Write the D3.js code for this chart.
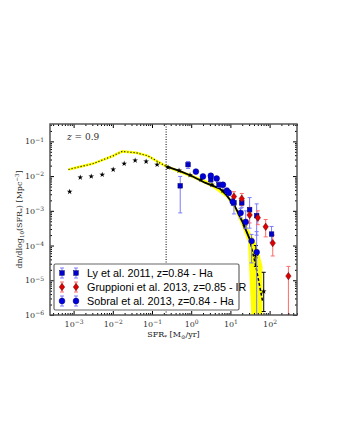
<!DOCTYPE html>
<html>
<head>
<meta charset="utf-8">
<script src="https://cdn.jsdelivr.net/npm/d3@7"></script>
<style>
  body { margin: 0; background: #fff; }
  svg text { font-family: "DejaVu Serif", "Liberation Serif", serif; }
</style>
</head>
<body>
<div id="chart"></div>
<script>
// values are log10(SFR) and log10(phi)
var starX = [-3.1, -2.83, -2.55, -2.27, -1.99, -1.71, -1.43, -1.15, -0.87, -0.59, -0.31, -0.03, 0.25, 0.53, 0.81, 1.09, 1.37, 1.65, 1.85];
var starY = [-2.45, -2.04, -2.01, -1.96, -1.81, -1.64, -1.55, -1.58, -1.67, -1.75, -1.84, -1.97, -2.1, -2.25, -2.42, -2.8, -3.45, -4.3, -5.32];
var starErrLo = [null, null, null, null, null, null, null, null, null, null, null, null, null, null, null, null, null, -4.6, -5.9];
var starErrHi = [null, null, null, null, null, null, null, null, null, null, null, null, null, null, null, null, null, -4.0, -4.77];

var modelX = [-3.13, -2.5, -2.0, -1.76, -1.4, -1.12, -0.64, -0.3, 0.0, 0.35, 0.73, 0.9, 1.11, 1.3, 1.49, 1.65, 1.82];
var modelY = [-1.81, -1.64, -1.42, -1.29, -1.33, -1.41, -1.72, -1.85, -1.99, -2.19, -2.36, -2.55, -2.86, -3.3, -3.81, -4.6, -5.6];

var bandX = [-0.64, 0.0, 0.5, 0.9, 1.1, 1.3, 1.45, 1.54, 1.65, 1.75, 1.82];
var bandHi = [-1.68, -1.95, -2.18, -2.5, -2.8, -3.18, -3.5, -3.7, -3.92, -4.3, -4.6];
var bandLo = [-1.76, -2.04, -2.3, -2.62, -2.94, -3.45, -3.9, -6.5, -6.5, -6.5, -6.5];

var lyX = [-0.28, -0.08, 0.50, 0.71, 1.09, 1.29, 1.49, 1.67, 2.05];
var lyY = [-2.28, -1.67, -2.10, -2.25, -2.77, -2.77, -2.97, -3.14, -3.67];
var lyLo = [-3.06, -1.78, -2.18, -2.33, -3.09, -2.9, -3.5, -3.7, -3.9];
var lyHi = [-2.01, -1.58, -2.03, -2.17, -2.59, -2.65, -2.62, -2.8, -3.45];

var grX = [1.09, 1.29, 1.49, 1.70, 1.90, 2.08, 2.48];
var grY = [-2.59, -2.65, -3.12, -3.2, -3.46, -3.93, -4.88];
var grLo = [-2.75, -2.85, -3.35, -3.4, -3.75, -4.3, -6.0];
var grHi = [-2.45, -2.5, -2.9, -3.0, -3.25, -3.7, -4.6];

var soX = [0.12, 0.30, 0.50, 0.65, 0.81, 0.91, 0.96, 1.06, 1.26, 1.39, 1.54, 1.67];
var soY = [-1.87, -2.01, -1.99, -2.07, -2.25, -2.42, -2.48, -2.74, -3.06, -3.32, -3.87, -4.19];
var soLo = [-1.93, -2.07, -2.05, -2.13, -2.31, -2.5, -2.56, -2.84, -3.2, -3.5, -4.5, -6.5];
var soHi = [-1.82, -1.96, -1.94, -2.02, -2.2, -2.35, -2.41, -2.65, -2.93, -3.0, -3.68, -3.6];

var legendLabels = ["Ly et al. 2011, z=0.84 - Ha", "Gruppioni et al. 2013, z=0.85 - IR", "Sobral et al. 2013, z=0.84 - Ha"];
var xTickExp = [-3, -2, -1, 0, 1, 2];
var yTickExp = [-6, -5, -4, -3, -2, -1];
var completeness = -0.64;

const margin = {top: 124, right: 43, bottom: 125, left: 50},
    width = 340 - margin.left - margin.right,
    height = 440 - margin.top - margin.bottom;

const svg = d3.select("#chart").append("svg")
    .attr("width", 340).attr("height", 440)
  .append("g")
    .attr("transform", "translate(" + margin.left + "," + margin.top + ")");

const x = d3.scaleLog().domain([2.5e-4, 500]).range([0, width]);
const y = d3.scaleLog().domain([1e-6, Math.pow(10, -0.5)]).range([height, 0]);
const px = v => x(Math.pow(10, v));
const py = v => y(Math.pow(10, Math.max(v, -6.2)));

svg.append("defs").append("clipPath").attr("id", "clip")
  .append("rect").attr("width", width).attr("height", height);
const plot = svg.append("g").attr("clip-path", "url(#clip)");

// yellow band
const band = d3.area()
    .x((d, i) => px(bandX[i]))
    .y0((d, i) => py(bandLo[i]))
    .y1((d, i) => py(bandHi[i]));
plot.append("path").datum(bandX).attr("d", band).attr("fill", "#ffff00");

const modelPts = modelX.map((v, i) => [v, modelY[i]]);
const line = d3.line().x(d => px(d[0])).y(d => py(d[1]));
const leftPts = modelPts.filter(d => d[0] <= completeness);
const midPts = modelPts.filter(d => d[0] >= completeness && d[0] <= 1.49);
const endPts = modelPts.filter(d => d[0] >= 1.49);

plot.append("path").datum(leftPts).attr("d", line)
    .attr("fill", "none").attr("stroke", "#ffff00").attr("stroke-width", 2.6);
plot.append("path").datum(leftPts).attr("d", line)
    .attr("fill", "none").attr("stroke", "#000").attr("stroke-width", 1.1)
    .attr("stroke-dasharray", "1.1,2");
plot.append("path").datum(midPts).attr("d", line)
    .attr("fill", "none").attr("stroke", "#000").attr("stroke-width", 1.8);
plot.append("path").datum(endPts).attr("d", line)
    .attr("fill", "none").attr("stroke", "#000").attr("stroke-width", 1.5)
    .attr("stroke-dasharray", "3,2");

// completeness limit
svg.append("line")
    .attr("x1", px(completeness)).attr("x2", px(completeness))
    .attr("y1", 0).attr("y2", height)
    .attr("stroke", "#000").attr("stroke-width", 1).attr("stroke-dasharray", "1,1.5");

function errorBars(g, xs, lo, hi, color) {
    xs.forEach(function(v, i) {
        if (lo[i] == null) return;
        const cx = px(v);
        g.append("line").attr("x1", cx).attr("x2", cx)
            .attr("y1", py(lo[i])).attr("y2", py(hi[i]))
            .attr("stroke", color).attr("stroke-width", 1);
        [lo[i], hi[i]].forEach(function(e) {
            if (e < -6) return;
            g.append("line").attr("x1", cx - 2).attr("x2", cx + 2)
                .attr("y1", py(e)).attr("y2", py(e))
                .attr("stroke", color).attr("stroke-width", 1);
        });
    });
}

// stars
errorBars(plot, starX, starErrLo, starErrHi, "#000");
const star = d3.symbol().type(d3.symbolStar).size(10);
plot.selectAll(".star").data(starX).enter().append("path")
    .attr("d", star)
    .attr("transform", (d, i) => "translate(" + px(d) + "," + py(starY[i]) + ")")
    .attr("fill", "#000");

const blueErr = "#7a7aff", redErr = "#ff6a6a";
function square(g, cx, cy) {
    g.append("rect").attr("x", cx - 2.3).attr("y", cy - 2.3).attr("width", 4.6).attr("height", 4.6)
        .attr("fill", "#0000cc").attr("stroke", "#000066").attr("stroke-width", 0.5);
}
function circle(g, cx, cy) {
    g.append("circle").attr("cx", cx).attr("cy", cy).attr("r", 2.9)
        .attr("fill", "#0000dd").attr("stroke", "#000077").attr("stroke-width", 0.5);
}
function diamond(g, cx, cy) {
    g.append("path")
        .attr("d", "M" + cx + "," + (cy - 3.7) + "L" + (cx + 2.7) + "," + cy + "L" + cx + "," + (cy + 3.7) + "L" + (cx - 2.7) + "," + cy + "Z")
        .attr("fill", "#dd0000").attr("stroke", "#660000").attr("stroke-width", 0.5);
}

errorBars(plot, lyX, lyLo, lyHi, blueErr);
errorBars(plot, grX, grLo, grHi, redErr);
errorBars(plot, soX, soLo, soHi, blueErr);
lyX.forEach((v, i) => square(plot, px(v), py(lyY[i])));
grX.forEach((v, i) => diamond(plot, px(v), py(grY[i])));
soX.forEach((v, i) => circle(plot, px(v), py(soY[i])));

// axes with inward ticks
function minors(exps, lo, hi) {
    const out = [];
    for (let e = exps[0] - 1; e <= exps[exps.length - 1] + 1; e++)
        for (let m = 2; m <= 9; m++) {
            const v = m * Math.pow(10, e);
            if (v >= lo && v <= hi) out.push(v);
        }
    return out;
}
const xMaj = xTickExp.map(e => Math.pow(10, e));
const yMaj = yTickExp.map(e => Math.pow(10, e));
const xMin = minors(xTickExp, x.domain()[0], x.domain()[1]);
const yMin = minors(yTickExp, y.domain()[0], y.domain()[1]);

function sup(sel, exps) {
    sel.selectAll(".tick text").each(function(d, i) {
        const t = d3.select(this).text("");
        t.append("tspan").text("10");
        t.append("tspan").attr("dy", "-0.45em").attr("font-size", "6px")
            .text(exps[i] < 0 ? "\u2212" + Math.abs(exps[i]) : exps[i]);
    });
}

const axes = [
  {ax: d3.axisBottom(x), tr: "translate(0," + height + ")", maj: xMaj, min: xMin, labels: true, exps: xTickExp},
  {ax: d3.axisTop(x), tr: "translate(0,0)", maj: xMaj, min: xMin},
  {ax: d3.axisLeft(y), tr: "translate(0,0)", maj: yMaj, min: yMin, labels: true, exps: yTickExp},
  {ax: d3.axisRight(y), tr: "translate(" + width + ",0)", maj: yMaj, min: yMin}
];
axes.forEach(function(a) {
    const gMin = svg.append("g").attr("transform", a.tr)
        .call(a.ax.tickValues(a.min).tickSize(-2).tickFormat(""));
    gMin.select(".domain").remove();
    const gMaj = svg.append("g").attr("transform", a.tr)
        .call(a.ax.tickValues(a.maj).tickSize(-4).tickPadding(6).tickFormat(""));
    gMaj.select(".domain").remove();
    gMaj.selectAll("line").attr("stroke-width", 1);
    if (a.labels) {
        gMaj.selectAll(".tick text").attr("font-size", "8px").attr("fill", "#333")
            .attr("font-family", "DejaVu Serif, serif");
        sup(gMaj, a.exps);
    } else {
        gMaj.selectAll(".tick text").remove();
    }
});

// frame
svg.append("rect").attr("width", width).attr("height", height)
    .attr("fill", "none").attr("stroke", "#555").attr("stroke-width", 1.5);

// labels
svg.append("text")
    .attr("x", 17).attr("y", 16)
    .attr("font-size", "9px").attr("fill", "#333")
    .html("<tspan font-style='italic'>z</tspan> = 0.9");

svg.append("text")
    .attr("x", width / 2).attr("y", height + 22)
    .attr("text-anchor", "middle").attr("font-size", "8px").attr("fill", "#222")
    .html("SFR<tspan font-size='5.5px' dy='1.5'>*</tspan><tspan dy='-1.5'> [M</tspan><tspan font-size='5.5px' dy='1.5'>\u2299</tspan><tspan dy='-1.5'>/yr]</tspan>");

svg.append("text")
    .attr("transform", "translate(" + (-28) + "," + (height / 2) + ") rotate(-90)")
    .attr("text-anchor", "middle").attr("font-size", "8px").attr("fill", "#222")
    .html("dn/dlog<tspan font-size='5.5px' dy='1.5'>10</tspan><tspan dy='-1.5'>(SFR</tspan><tspan font-size='5.5px' dy='1.5'>*</tspan><tspan dy='-1.5'>) [Mpc</tspan><tspan font-size='5.5px' dy='-3'>\u22123</tspan><tspan dy='3'>]</tspan>");

// legend
const lg = svg.append("g").attr("transform", "translate(4," + (height - 51) + ")");
lg.append("rect").attr("width", 185).attr("height", 46).attr("rx", 1.5)
    .attr("fill", "#fff").attr("stroke", "#666").attr("stroke-width", 1.2);
const drawers = [square, diamond, circle];
const errCols = [blueErr, redErr, blueErr];
legendLabels.forEach(function(lbl, i) {
    const cy = 9 + i * 14;
    [8, 22].forEach(function(cx) {
        lg.append("line").attr("x1", cx).attr("x2", cx).attr("y1", cy - 5).attr("y2", cy + 5)
            .attr("stroke", errCols[i]);
        [cy - 5, cy + 5].forEach(e => lg.append("line").attr("x1", cx - 2).attr("x2", cx + 2)
            .attr("y1", e).attr("y2", e).attr("stroke", errCols[i]));
        drawers[i](lg, cx, cy);
    });
    lg.append("text").attr("x", 33).attr("y", cy + 3.8)
        .style("font-family", "Liberation Sans, Arial, sans-serif")
        .attr("font-size", "10.8px").attr("fill", "#000").text(lbl);
});
</script>
</body>
</html>
